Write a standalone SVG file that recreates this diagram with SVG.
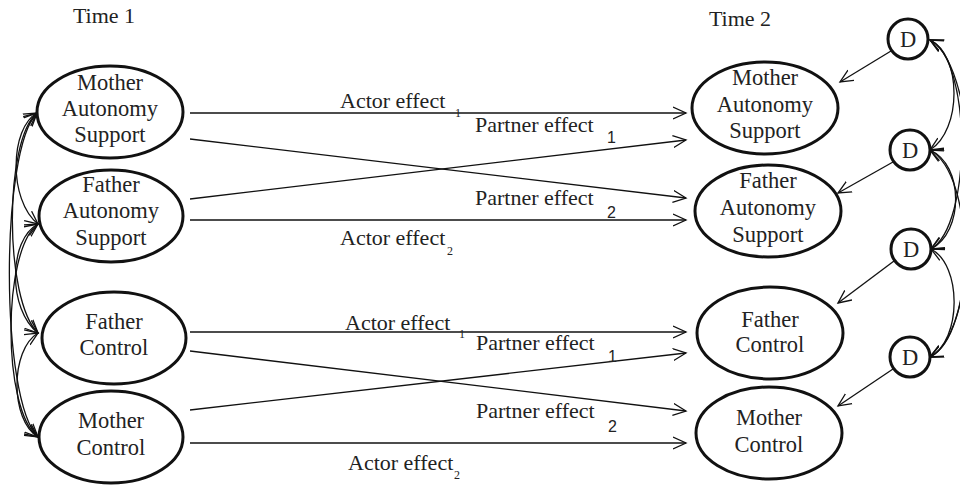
<svg xmlns="http://www.w3.org/2000/svg" width="960" height="485" viewBox="0 0 960 485">
<style>
  text { font-family: "Liberation Serif", "Times New Roman", serif; fill: #222; }
  .lbl { font-size: 22.5px; text-anchor: middle; }
  .eff { font-size: 22px; }
  .sub { font-size: 12px; }
  .sub2 { font-family: "Liberation Sans", Arial, sans-serif; font-size: 16px; }
  .node { fill: #fff; stroke: #111; stroke-width: 3; }
  .conn { fill: none; stroke: #111; stroke-width: 1.3; }
</style>
<defs>
  <marker id="arr" markerUnits="userSpaceOnUse" markerWidth="16" markerHeight="14" refX="13" refY="6" orient="auto-start-reverse" viewBox="0 0 16 12">
    <path d="M0,0 L13,6 L0,12" fill="none" stroke="#111" stroke-width="1.3"/>
  </marker>
</defs>
<rect width="960" height="485" fill="#fff"/>

<text class="lbl" x="104" y="23" style="font-size:22px">Time 1</text>
<text class="lbl" x="740" y="26" style="font-size:22px">Time 2</text>

<g id="connectors">
  <!-- top block -->
  <line class="conn" x1="190" y1="113" x2="686" y2="113" marker-end="url(#arr)"/>
  <line class="conn" x1="190" y1="139" x2="686" y2="198" marker-end="url(#arr)"/>
  <line class="conn" x1="190" y1="199" x2="686" y2="140" marker-end="url(#arr)"/>
  <line class="conn" x1="190" y1="220" x2="686" y2="220" marker-end="url(#arr)"/>
  <!-- bottom block -->
  <line class="conn" x1="190" y1="332" x2="686" y2="332" marker-end="url(#arr)"/>
  <line class="conn" x1="190" y1="351" x2="686" y2="411" marker-end="url(#arr)"/>
  <line class="conn" x1="190" y1="410" x2="686" y2="353" marker-end="url(#arr)"/>
  <line class="conn" x1="190" y1="443" x2="686" y2="443" marker-end="url(#arr)"/>
  <!-- D to endogenous -->
  <line class="conn" x1="891" y1="51" x2="840" y2="82" marker-end="url(#arr)"/>
  <line class="conn" x1="893" y1="162" x2="838" y2="193" marker-end="url(#arr)"/>
  <line class="conn" x1="894" y1="261" x2="838" y2="303" marker-end="url(#arr)"/>
  <line class="conn" x1="893" y1="369" x2="838" y2="406" marker-end="url(#arr)"/>
  <!-- left covariances -->
  <path class="conn" d="M37,113 C10,128 8,200 38,224" marker-start="url(#arr)" marker-end="url(#arr)"/>
  <path class="conn" d="M37,113 C4,140 4,300 38,333" marker-start="url(#arr)" marker-end="url(#arr)"/>
  <path class="conn" d="M37,113 C0,150 0,400 38,437" marker-start="url(#arr)" marker-end="url(#arr)"/>
  <path class="conn" d="M38,224 C8,240 8,310 38,333" marker-start="url(#arr)" marker-end="url(#arr)"/>
  <path class="conn" d="M38,224 C2,250 2,410 38,437" marker-start="url(#arr)" marker-end="url(#arr)"/>
  <path class="conn" d="M38,333 C10,350 10,420 38,437" marker-start="url(#arr)" marker-end="url(#arr)"/>
  <!-- right covariances -->
  <path class="conn" d="M930,40 C962,55 962,130 930,150" marker-start="url(#arr)" marker-end="url(#arr)"/>
  <path class="conn" d="M930,40 C972,60 972,225 931,249" marker-start="url(#arr)" marker-end="url(#arr)"/>
  <path class="conn" d="M930,40 C985,70 985,330 930,357" marker-start="url(#arr)" marker-end="url(#arr)"/>
  <path class="conn" d="M930,150 C964,165 964,232 931,249" marker-start="url(#arr)" marker-end="url(#arr)"/>
  <path class="conn" d="M930,150 C976,175 976,335 930,357" marker-start="url(#arr)" marker-end="url(#arr)"/>
  <path class="conn" d="M931,249 C962,265 962,340 930,357" marker-start="url(#arr)" marker-end="url(#arr)"/>
</g>

<g id="effect-labels">
  <text class="eff" x="340" y="108">Actor effect</text><text class="sub" x="455" y="117">1</text>
  <text class="eff" x="475" y="132">Partner effect</text><text class="sub2" x="607" y="143">1</text>
  <text class="eff" x="475" y="205">Partner effect</text><text class="sub2" x="607" y="218">2</text>
  <text class="eff" x="340" y="245">Actor effect</text><text class="sub" x="447" y="255">2</text>
  <text class="eff" x="345" y="330">Actor effect</text><text class="sub" x="459" y="338">1</text>
  <text class="eff" x="476" y="350">Partner effect</text><text class="sub2" x="608" y="362">1</text>
  <text class="eff" x="476" y="418">Partner effect</text><text class="sub2" x="608" y="432">2</text>
  <text class="eff" x="348" y="470">Actor effect</text><text class="sub" x="454" y="479">2</text>
</g>

<g id="t1-mother-autonomy">
  <ellipse class="node" cx="110" cy="112" rx="73" ry="46"/>
  <text class="lbl" x="110" y="90">Mother</text>
  <text class="lbl" x="110" y="116">Autonomy</text>
  <text class="lbl" x="110" y="142">Support</text>
</g>
<g id="t1-father-autonomy">
  <ellipse class="node" cx="111" cy="216" rx="72" ry="46"/>
  <text class="lbl" x="111" y="192">Father</text>
  <text class="lbl" x="111" y="218">Autonomy</text>
  <text class="lbl" x="111" y="245">Support</text>
</g>
<g id="t1-father-control">
  <ellipse class="node" cx="114" cy="338" rx="72" ry="46"/>
  <text class="lbl" x="114" y="329">Father</text>
  <text class="lbl" x="114" y="355">Control</text>
</g>
<g id="t1-mother-control">
  <ellipse class="node" cx="111" cy="437" rx="72" ry="46"/>
  <text class="lbl" x="111" y="428">Mother</text>
  <text class="lbl" x="111" y="455">Control</text>
</g>

<g id="t2-mother-autonomy">
  <ellipse class="node" cx="765" cy="108" rx="73" ry="46"/>
  <text class="lbl" x="765" y="85">Mother</text>
  <text class="lbl" x="765" y="112">Autonomy</text>
  <text class="lbl" x="765" y="138">Support</text>
</g>
<g id="t2-father-autonomy">
  <ellipse class="node" cx="768" cy="211" rx="73" ry="46"/>
  <text class="lbl" x="768" y="188">Father</text>
  <text class="lbl" x="768" y="215">Autonomy</text>
  <text class="lbl" x="768" y="242">Support</text>
</g>
<g id="t2-father-control">
  <ellipse class="node" cx="770" cy="333" rx="73" ry="46"/>
  <text class="lbl" x="770" y="327">Father</text>
  <text class="lbl" x="770" y="352">Control</text>
</g>
<g id="t2-mother-control">
  <ellipse class="node" cx="769" cy="433" rx="73" ry="46"/>
  <text class="lbl" x="769" y="425">Mother</text>
  <text class="lbl" x="769" y="452">Control</text>
</g>

<g id="d1"><circle class="node" cx="908" cy="39" r="20"/><text class="lbl" x="908" y="47">D</text></g>
<g id="d2"><circle class="node" cx="910" cy="150" r="20"/><text class="lbl" x="910" y="158">D</text></g>
<g id="d3"><circle class="node" cx="911" cy="249" r="20"/><text class="lbl" x="911" y="257">D</text></g>
<g id="d4"><circle class="node" cx="910" cy="357" r="20"/><text class="lbl" x="910" y="365">D</text></g>
</svg>
